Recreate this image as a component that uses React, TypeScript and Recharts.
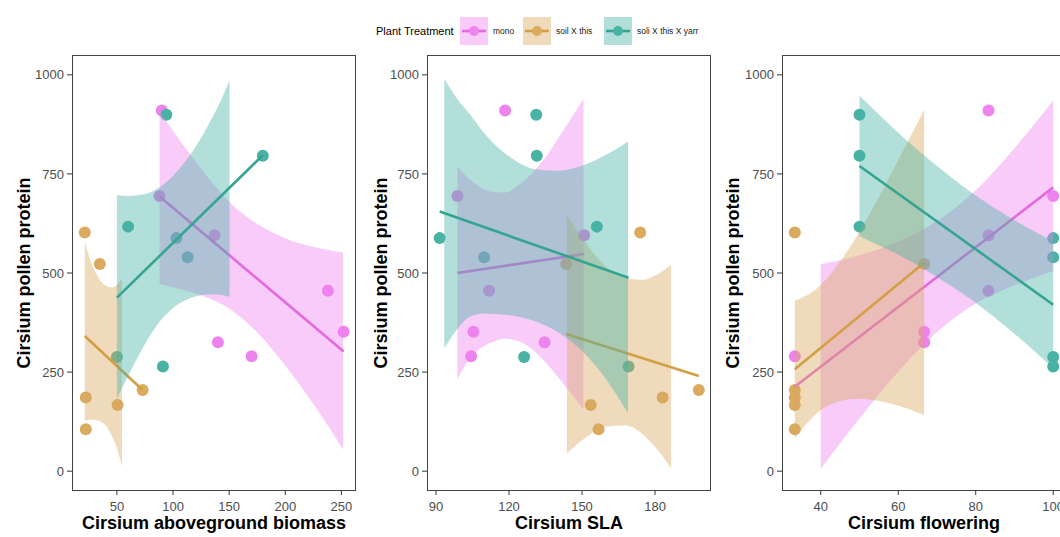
import React from "react";
import { ComposedChart, Area, Line, Scatter, XAxis, YAxis } from "recharts";

// treatment groups, in drawing order
const treatments = ["mono", "soil X this", "soli X this X yarr"];
const fillColors = ["#EE82EE", "#DAAA5F", "#48B2A5"];
const lineColors = ["#E26BDE", "#D39F45", "#34A493"];

const yTicks = [0, 250, 500, 750, 1000];

// pollen protein per plant
const monoProtein = [910, 694, 595, 455, 352, 325, 290];
const soilProtein = [602, 523, 205, 186, 167, 106];
const yarrProtein = [899, 796, 617, 588, 540, 288, 264];

// aboveground biomass of the same plants
const monoBiomass = [90, 88, 137, 238, 252, 140, 170];
const soilBiomass = [21.4, 34.8, 72.9, 22.3, 50.6, 22.3];
const yarrBiomass = [94, 180, 60, 103, 113, 50, 91];

// specific leaf area
const monoSLA = [118.4, 98.8, 150.9, 111.8, 105.4, 134.6, 104.4];
const soilSLA = [173.9, 143.5, 198, 183.1, 153.6, 156.8];
const yarrSLA = [131.2, 131.4, 156.1, 91.5, 109.8, 126.2, 169.1];

// flowering
const monoFlower = [83.3, 100, 83.3, 83.3, 66.7, 66.7, 33.3];
const soilFlower = [33.3, 66.7, 33.3, 33.3, 33.3, 33.3];
const yarrFlower = [50, 50, 50, 100, 100, 100, 100];

// linear fits (start, end)
const monoBiomassFit = [[88, 693], [252, 302]];
const soilBiomassFit = [[21.4, 341], [72.9, 205]];
const yarrBiomassFit = [[50, 438], [180, 797]];
const monoSLAFit = [[98.8, 500], [150.9, 548]];
const soilSLAFit = [[143.5, 346], [198, 240]];
const yarrSLAFit = [[91.5, 655], [169.1, 488]];
const monoFlowerFit = [[33.3, 213], [100, 716]];
const soilFlowerFit = [[33.3, 257], [66.7, 526]];
const yarrFlowerFit = [[50, 770], [100, 420]];

// 95% confidence bands (clipped to 0..1000)
const monoBiomassBand = {
  x: [88, 100, 115, 130, 150, 175, 205, 235, 251.5],
  lo: [472, 464, 452, 438, 410, 350, 248, 128, 55],
  hi: [908, 858, 800, 745, 680, 624, 582, 560, 552],
};
const soilBiomassBand = {
  x: [21.4, 26, 30, 35, 40, 45, 50, 54.5],
  lo: [128, 130, 130, 126, 115, 92, 58, 12],
  hi: [578, 535, 506, 482, 468, 464, 470, 486],
};
const yarrBiomassBand = {
  x: [50, 60, 70, 80, 90, 100, 110, 120, 130, 140, 150.3],
  lo: [183, 241, 295, 344, 384, 412, 430, 441, 446, 446, 440],
  hi: [697, 694, 697, 704, 720, 745, 778, 818, 866, 920, 985],
};
const monoSLABand = {
  x: [98.8, 104, 108, 113, 118.4, 124, 130, 136, 142, 150.6],
  lo: [232, 285, 308, 325, 334, 328, 305, 268, 223, 155],
  hi: [768, 735, 717, 705, 703, 722, 755, 800, 857, 939],
};
const soilSLABand = {
  x: [143.8, 151.3, 159.5, 167.8, 174.6, 181.5, 186.6],
  lo: [45, 84, 112, 116, 95, 50, 7],
  hi: [646, 578, 518, 488, 483, 499, 520],
};
const yarrSLABand = {
  x: [93.4, 99.2, 104, 110.2, 119.8, 130.7, 140.3, 150.6, 159.5, 168.9],
  lo: [310, 362, 390, 398, 394, 378, 350, 300, 235, 146],
  hi: [990, 935, 900, 850, 795, 762, 758, 772, 797, 832],
};
const monoFlowerBand = {
  x: [40, 50, 60, 70, 80, 90, 100],
  lo: [6, 133, 251, 351, 423, 469, 505],
  hi: [522, 545, 579, 631, 709, 815, 935],
};
const soilFlowerBand = {
  x: [33.3, 40, 45, 50, 55, 60, 66.7],
  lo: [84, 154, 177, 183, 177, 165, 142],
  hi: [430, 470, 529, 605, 691, 785, 912],
};
const yarrFlowerBand = {
  x: [50, 58, 66, 74, 82, 90, 100],
  lo: [593, 556, 514, 465, 410, 347, 260],
  hi: [947, 872, 802, 739, 682, 633, 580],
};

type Band = { x: number[]; lo: number[]; hi: number[] };

const proteins = [monoProtein, soilProtein, yarrProtein];

const toPoints = (xs: number[], ys: number[]) => xs.map((x, i) => ({ x, y: ys[i] }));
const toBand = (b: Band) => b.x.map((x, i) => ({ x, band: [b.lo[i], b.hi[i]] }));
const toFit = (f: number[][]) => f.map(([x, y]) => ({ x, y }));

const FONT = "'Liberation Sans', Arial, Helvetica, sans-serif";

function Panel({
  left,
  title,
  domain,
  ticks,
  xs,
  bands,
  fits,
  labelOffset,
}: {
  left: number;
  title: string;
  domain: [number, number];
  ticks: number[];
  xs: number[][];
  bands: Band[];
  fits: number[][][];
  labelOffset: number;
}) {
  return (
    <div style={{ position: "absolute", left, top: 0 }}>
      <ComposedChart width={360} height={537} margin={{ top: 55, right: 4, bottom: 0, left: 0 }}>
        <XAxis
          type="number"
          dataKey="x"
          domain={domain}
          ticks={ticks}
          interval={0}
          allowDataOverflow
          axisLine={false}
          tickLine={{ stroke: "#333" }}
          tickSize={4}
          tickMargin={7}
          height={46}
          tick={{ fontSize: 13, fill: "#4d4d4d" }}
          label={{
            value: title,
            position: "insideBottom",
            offset: 8,
            style: { fontSize: 18, fontWeight: 700, fill: "#000" },
          }}
        />
        <YAxis
          type="number"
          dataKey="y"
          domain={[-50, 1050]}
          ticks={yTicks}
          interval={0}
          allowDataOverflow
          axisLine={false}
          tickLine={{ stroke: "#333" }}
          tickSize={5}
          tickMargin={3}
          width={72}
          tick={{ fontSize: 13, fill: "#4d4d4d" }}
          label={{
            value: "Cirsium pollen protein",
            angle: -90,
            position: "insideLeft",
            offset: labelOffset,
            style: { fontSize: 18, fontWeight: 700, fill: "#000", textAnchor: "middle" },
          }}
        />
        {treatments.map((t, i) => (
          <Scatter
            key={"pts-" + t}
            name={t}
            data={toPoints(xs[i], proteins[i])}
            dataKey="y"
            zIndex={50}
            isAnimationActive={false}
            shape={(p: any) => <circle cx={p.cx} cy={p.cy} r={6} fill={fillColors[i]} />}
          />
        ))}
        {treatments.flatMap((t, i) => [
          <Area
            key={"band-" + t}
            data={toBand(bands[i])}
            dataKey="band"
            type="monotone"
            stroke="none"
            fill={fillColors[i]}
            fillOpacity={0.42}
            dot={false}
            activeDot={false}
            zIndex={101 + i * 2}
            isAnimationActive={false}
          />,
          <Line
            key={"fit-" + t}
            data={toFit(fits[i])}
            dataKey="y"
            type="linear"
            stroke={lineColors[i]}
            strokeWidth={2.6}
            dot={false}
            activeDot={false}
            zIndex={102 + i * 2}
            isAnimationActive={false}
          />,
        ])}
      </ComposedChart>
      <div
        style={{
          position: "absolute",
          left: 72,
          top: 55,
          width: 284,
          height: 436,
          border: "1.5px solid #444",
          boxSizing: "border-box",
          pointerEvents: "none",
        }}
      />
    </div>
  );
}

function LegendKey({ i }: { i: number }) {
  return (
    <svg width={28} height={28} style={{ display: "block" }}>
      <rect x={0} y={0} width={28} height={28} fill={fillColors[i]} fillOpacity={0.42} />
      <line x1={2} y1={14} x2={26} y2={14} stroke={lineColors[i]} strokeWidth={2.6} />
      <circle cx={14} cy={14} r={5} fill={fillColors[i]} />
    </svg>
  );
}

const legendKeyLeft = [460, 523, 604];

export default function App() {
  return (
    <div
      style={{
        position: "fixed",
        left: 0,
        top: 0,
        width: 1060,
        height: 537,
        overflow: "hidden",
        background: "#fff",
        fontFamily: FONT,
      }}
    >
      <div style={{ position: "absolute", left: 376, top: 24, fontSize: 11, color: "#000", lineHeight: "14px" }}>
        Plant Treatment
      </div>
      {treatments.map((t, i) => (
        <div key={t} style={{ position: "absolute", left: legendKeyLeft[i], top: 17, display: "flex", alignItems: "center" }}>
          <LegendKey i={i} />
          <span style={{ marginLeft: 5, fontSize: 8.5, color: "#222" }}>{t}</span>
        </div>
      ))}
      <Panel
        left={0}
        title="Cirsium aboveground biomass"
        domain={[10, 263]}
        ticks={[50, 100, 150, 200, 250]}
        xs={[monoBiomass, soilBiomass, yarrBiomass]}
        bands={[monoBiomassBand, soilBiomassBand, yarrBiomassBand]}
        fits={[monoBiomassFit, soilBiomassFit, yarrBiomassFit]}
        labelOffset={24}
      />
      <Panel
        left={355}
        title="Cirsium SLA"
        domain={[86.3, 203]}
        ticks={[90, 120, 150, 180]}
        xs={[monoSLA, soilSLA, yarrSLA]}
        bands={[monoSLABand, soilSLABand, yarrSLABand]}
        fits={[monoSLAFit, soilSLAFit, yarrSLAFit]}
        labelOffset={26}
      />
      <Panel
        left={710}
        title="Cirsium flowering"
        domain={[30, 103.3]}
        ticks={[40, 60, 80, 100]}
        xs={[monoFlower, soilFlower, yarrFlower]}
        bands={[monoFlowerBand, soilFlowerBand, yarrFlowerBand]}
        fits={[monoFlowerFit, soilFlowerFit, yarrFlowerFit]}
        labelOffset={23}
      />
    </div>
  );
}
